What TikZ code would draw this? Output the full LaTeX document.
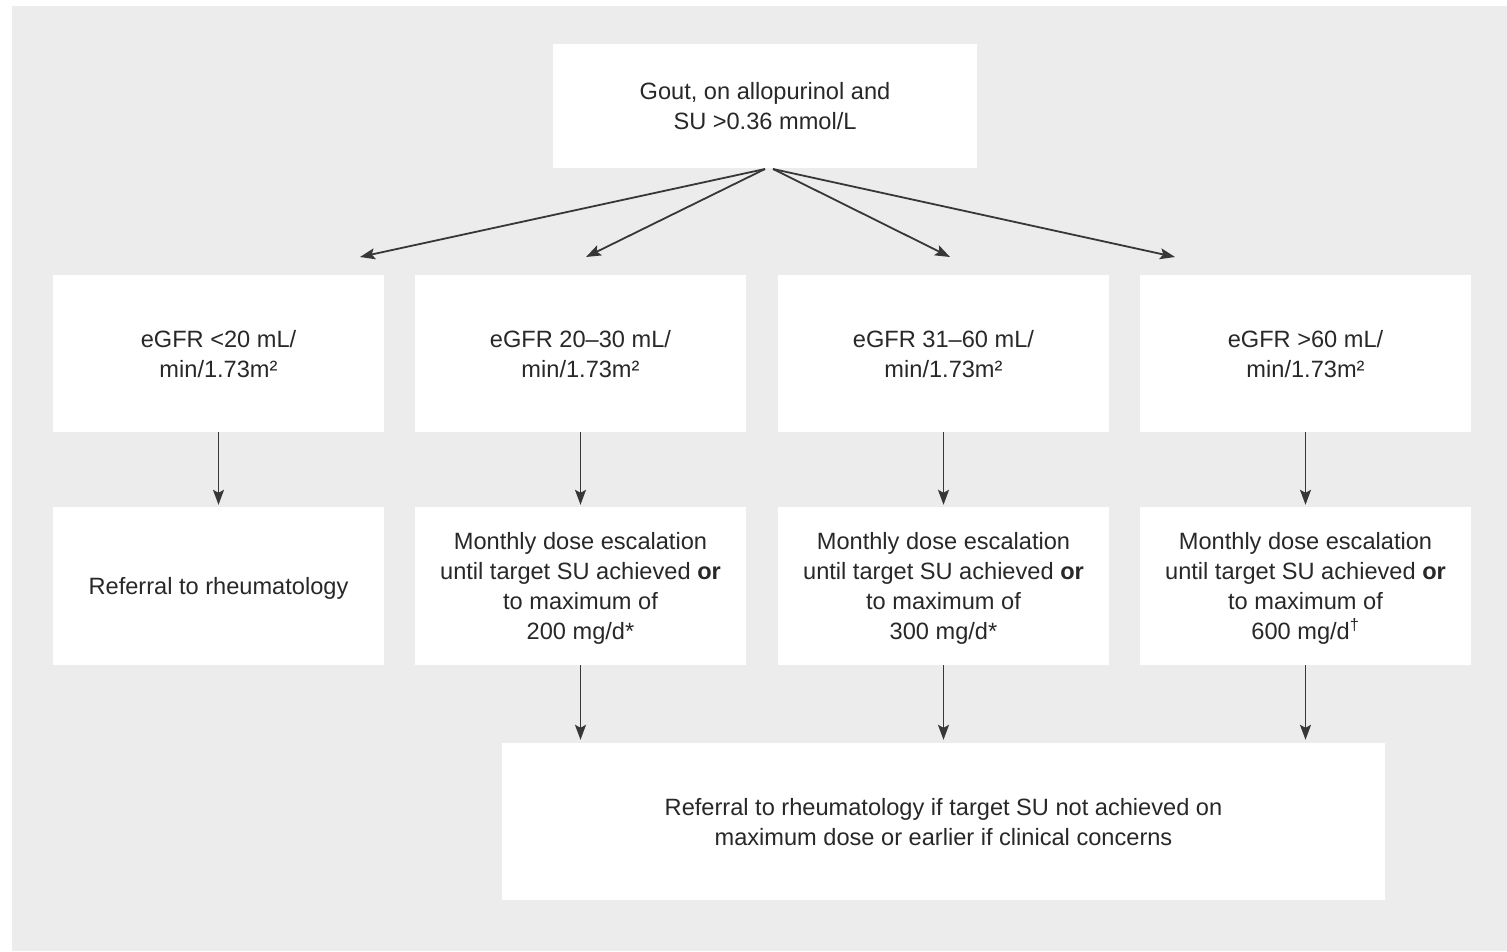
\documentclass[tikz,border=0pt]{standalone}
\usepackage{fontspec}
\setmainfont{Liberation Sans}
\usetikzlibrary{arrows.meta}
\definecolor{bg}{RGB}{235,236,235}
\definecolor{txt}{RGB}{40,40,40}
\definecolor{arr}{RGB}{55,55,55}
\newcommand{\tx}[1]{\raisebox{-2.5pt}[\height][\depth]{\begin{tabular}{@{}c@{}}#1\end{tabular}}}
\tikzset{
  box/.style={fill=white, draw=none, align=center, text=txt, inner sep=0pt,
    font=\fontsize{23.6}{30}\selectfont},
  conn/.style={draw=arr, line width=1.8pt, -{Stealth[length=15pt,width=11pt,inset=3pt]}},
}
\begin{document}
\begin{tikzpicture}[x=1pt,y=-1pt]
\useasboundingbox (0,0) rectangle (1507,951);
\fill[bg] (12,6) rectangle (1507,951);
\node[box, minimum width=424pt, minimum height=124pt] (top) at (765,106) {\tx{Gout, on allopurinol and\\SU >0.36 mmol/L}};
\node[box, minimum width=331pt, minimum height=157pt] (b1) at (218.5,353.5) {\tx{eGFR <20 mL/\\min/1.73m²}};
\node[box, minimum width=331pt, minimum height=157pt] (b2) at (580.5,353.5) {\tx{eGFR 20–30 mL/\\min/1.73m²}};
\node[box, minimum width=331pt, minimum height=157pt] (b3) at (943.5,353.5) {\tx{eGFR 31–60 mL/\\min/1.73m²}};
\node[box, minimum width=331pt, minimum height=157pt] (b4) at (1305.5,353.5) {\tx{eGFR >60 mL/\\min/1.73m²}};
\node[box, minimum width=331pt, minimum height=158pt] (c1) at (218.5,586) {\tx{Referral to rheumatology}};
\node[box, minimum width=331pt, minimum height=158pt] (c2) at (580.5,586) {\tx{Monthly dose escalation\\until target SU achieved \textbf{or}\\to maximum of\\200 mg/d*}};
\node[box, minimum width=331pt, minimum height=158pt] (c3) at (943.5,586) {\tx{Monthly dose escalation\\until target SU achieved \textbf{or}\\to maximum of\\300 mg/d*}};
\node[box, minimum width=331pt, minimum height=158pt] (c4) at (1305.5,586) {\tx{Monthly dose escalation\\until target SU achieved \textbf{or}\\to maximum of\\600 mg/d\textsuperscript{†}}};
\node[box, minimum width=883pt, minimum height=157pt] (fin) at (943.5,821.5) {\tx{Referral to rheumatology if target SU not achieved on\\maximum dose or earlier if clinical concerns}};
\coordinate (sl) at (765,169);
\coordinate (sr) at (773,169);
\coordinate (e1) at (360,257);
\coordinate (e2) at (586,257);
\coordinate (e3) at (950,257);
\coordinate (e4) at (1175,257);
\draw[conn] (sl) -- (e1);
\draw[conn] (sl) -- (e2);
\draw[conn] (sr) -- (e3);
\draw[conn] (sr) -- (e4);
\foreach \i in {1,2,3,4} {
  \draw[conn, shorten >=2pt] (b\i.south) -- (c\i.north);
}
\foreach \i in {2,3,4} {
  \draw[conn, shorten >=3pt] (c\i.south) -- (c\i.south |- fin.north);
}
\end{tikzpicture}
\end{document}
